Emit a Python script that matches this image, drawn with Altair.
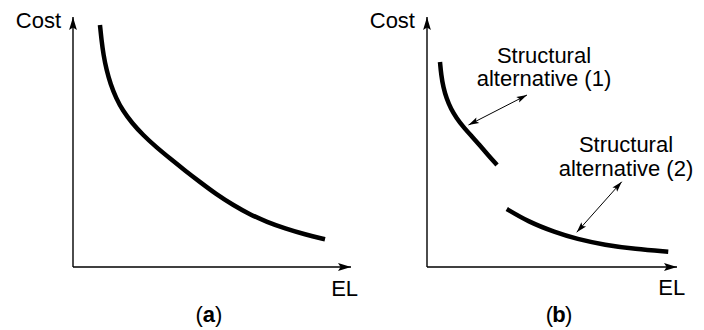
import altair as alt
import numpy as np
import pandas as pd

# ---------------- data (EL and Cost in relative units, 0-100 along each axis) ----------------
# Panel (a): a single cost curve
a_el = [9.7, 10.25, 10.97, 12.05, 13.49, 15.47, 17.99, 21.22, 25.18, 29.86, 34.89,
        40.29, 45.68, 51.44, 57.55, 63.67, 69.78, 76.26, 83.45, 90.65]
a_cost = [96.8, 90.8, 84.8, 78.8, 73.2, 67.6, 62.4, 57.6, 52.8, 48.0, 43.4,
          38.6, 34.0, 29.2, 24.8, 21.0, 18.0, 15.4, 13.0, 11.1]

# Panel (b): two structural alternatives
b1_el = [5.2, 5.68, 6.52, 7.8, 9.6, 11.8, 14.4, 17.6, 21.0, 24.4, 28.0]
b1_cost = [82.0, 76.8, 72.0, 67.4, 63.2, 59.6, 56.2, 52.6, 48.8, 44.8, 40.8]
b2_el = [31.9, 40.5, 51.2, 59.9, 71.2, 83.2, 96.5]
b2_cost = [23.2, 18.1, 13.9, 11.2, 8.8, 7.2, 6.1]

# double-headed annotation arrows in panel (b)
arr_el_from = [16.6, 59.9]
arr_cost_from = [56.8, 13.9]
arr_el_to = [40.0, 77.9]
arr_cost_to = [68.8, 34.1]

# annotation text lines in panel (b)
note_lines = ["Structural", "alternative (1)", "Structural", "alternative (2)"]
note_el = [46.8, 46.8, 79.6, 79.6]
note_cost = [81.8, 72.4, 46.0, 36.4]

axis_max = 100
y_title = "Cost"
x_title = "EL"
panel_tags = ["a", "b"]

# ---------------- styling / geometry ----------------
W, H = 352, 330          # each panel
OY = 267                 # pixel row of the x axis
PXY = 2.5                # pixels per Cost unit
FONT = "Liberation Sans"
FS = 22
ARROW = "M0,0 L-2,-0.6 L-1.6,0 L-2,0.6 Z"


def make_panel(curves, tag, ox, pxx, title_pos, arrows=None, notes=None):
    xs = alt.Scale(domain=[-ox / pxx, (W - ox) / pxx], nice=False, zero=False)
    ys = alt.Scale(domain=[-(H - OY) / PXY, OY / PXY], nice=False, zero=False)

    def X(f):
        return alt.X(f, type="quantitative", scale=xs, axis=None)

    def Y(f):
        return alt.Y(f, type="quantitative", scale=ys, axis=None)

    axes_df = pd.DataFrame({"EL": [0, 0], "Cost": [0, 0],
                            "EL2": [axis_max, 0], "Cost2": [0, axis_max]})
    axes = alt.Chart(axes_df).mark_rule(color="black", strokeWidth=1.4).encode(
        x=X("EL"), y=Y("Cost"), x2="EL2", y2="Cost2")

    heads_df = pd.DataFrame({"EL": [axis_max, 0], "Cost": [0, axis_max],
                             "ang": [0, 270], "sz": [169, 169]})

    layers = [axes]

    line = alt.Chart(curves).mark_line(color="black", strokeWidth=4.5,
                                        interpolate="basis", strokeCap="butt").encode(
        x=X("EL"), y=Y("Cost"), detail="series:N")
    layers.append(line)

    if arrows is not None:
        ar = alt.Chart(arrows).mark_rule(color="black", strokeWidth=1).encode(
            x=X("EL"), y=Y("Cost"), x2="EL2", y2="Cost2")
        layers.append(ar)
        hd = []
        for _, r in arrows.iterrows():
            ang = np.degrees(np.arctan2(-(r.Cost2 - r.Cost) * PXY, (r.EL2 - r.EL) * pxx)) % 360
            hd.append({"EL": r.EL2, "Cost": r.Cost2, "ang": ang, "sz": 110})
            hd.append({"EL": r.EL, "Cost": r.Cost, "ang": (ang + 180) % 360, "sz": 110})
        heads_df = pd.concat([heads_df, pd.DataFrame(hd)], ignore_index=True)

    heads = alt.Chart(heads_df).mark_point(shape=ARROW, filled=True, color="black",
                                           opacity=1, strokeWidth=0).encode(
        x=X("EL"), y=Y("Cost"),
        angle=alt.Angle("ang:Q", scale=None), size=alt.Size("sz:Q", scale=None))
    layers.append(heads)

    def txt(df, align, weight="normal", dx=0):
        return alt.Chart(df).mark_text(align=align, baseline="alphabetic", font=FONT,
                                       fontSize=FS, fontWeight=weight, dx=dx,
                                       color="black").encode(
            x=X("EL"), y=Y("Cost"), text="label:N")

    (cx, cy), (ex, ey), (tx, ty) = title_pos
    layers.append(txt(pd.DataFrame({"label": [y_title], "EL": [cx], "Cost": [cy]}), "right"))
    layers.append(txt(pd.DataFrame({"label": [x_title], "EL": [ex], "Cost": [ey]}), "center"))
    tag_df = pd.DataFrame({"label": [tag], "EL": [tx], "Cost": [ty]})
    layers.append(txt(tag_df, "center", "bold"))
    layers.append(txt(tag_df.assign(label="("), "right", dx=-6))
    layers.append(txt(tag_df.assign(label=")"), "left", dx=6))

    if notes is not None:
        layers.append(txt(notes, "center"))

    return alt.layer(*layers).properties(width=W, height=H)


curves_a = pd.DataFrame({"EL": a_el, "Cost": a_cost, "series": "a"})
curves_b = pd.concat([
    pd.DataFrame({"EL": b1_el, "Cost": b1_cost, "series": "b1"}),
    pd.DataFrame({"EL": b2_el, "Cost": b2_cost, "series": "b2"}),
], ignore_index=True)
arrows_b = pd.DataFrame({"EL": arr_el_from, "Cost": arr_cost_from,
                         "EL2": arr_el_to, "Cost2": arr_cost_to})
notes_b = pd.DataFrame({"label": note_lines, "EL": note_el, "Cost": note_cost})

panel_a = make_panel(curves_a, panel_tags[0], 73, 2.78,
                     [(-4.3, 95.6), (97.7, -11.6), (48.9, -22.0)])
panel_b = make_panel(curves_b, panel_tags[1], 75, 2.5,
                     [(-4.8, 95.8), (97.9, -11.2), (52.8, -22.0)],
                     arrows=arrows_b, notes=notes_b)

chart = alt.hconcat(panel_a, panel_b, spacing=0).properties(
    padding=0, bounds="flush"
).configure_view(stroke=None)

chart.save("out.html", embed_options={"renderer": "svg", "actions": False})
